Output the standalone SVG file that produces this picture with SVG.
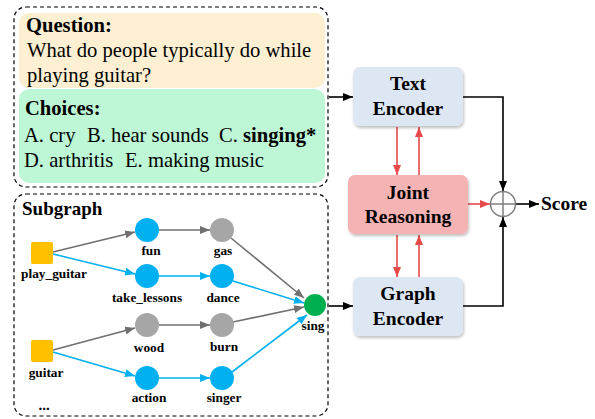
<svg xmlns="http://www.w3.org/2000/svg" width="595" height="419" viewBox="0 0 595 419" font-family="'Liberation Serif', 'DejaVu Serif', serif">
<style>
text{font-family:'Liberation Serif','DejaVu Serif',serif;fill:#000}
.t20{font-size:20.6px}
.b{font-weight:bold}
.lbl{font-weight:bold;font-size:13.3px;text-anchor:middle}
.box{font-weight:bold;font-size:19.5px;text-anchor:middle}
.dash{fill:none;stroke:#000;stroke-width:1.2;stroke-dasharray:4 3}
.ge{stroke:#707070;stroke-width:1.6;fill:none}
.be{stroke:#00B0F0;stroke-width:1.6;fill:none}
.re{stroke:#E84A4A;stroke-width:1.6;fill:none}
.ke{stroke:#000;stroke-width:1.6;fill:none}
.bn{fill:#00B0F0}
.gn{fill:#A6A6A6}
.sq{fill:#FFC000}
</style>
<defs>
<marker id="ag" markerUnits="userSpaceOnUse" markerWidth="10" markerHeight="8" refX="10" refY="4" orient="auto"><path d="M0,0 L10,4 L0,8 Z" fill="#707070"/></marker>
<marker id="ab" markerUnits="userSpaceOnUse" markerWidth="10" markerHeight="8" refX="10" refY="4" orient="auto"><path d="M0,0 L10,4 L0,8 Z" fill="#00B0F0"/></marker>
<marker id="ar" markerUnits="userSpaceOnUse" markerWidth="10" markerHeight="8" refX="10" refY="4" orient="auto"><path d="M0,0 L10,4 L0,8 Z" fill="#E84A4A"/></marker>
<marker id="ak" markerUnits="userSpaceOnUse" markerWidth="10" markerHeight="8" refX="10" refY="4" orient="auto"><path d="M0,0 L10,4 L0,8 Z" fill="#000"/></marker>
<filter id="sh" x="-10%" y="-10%" width="130%" height="140%"><feDropShadow dx="1" dy="2" stdDeviation="1.5" flood-color="#000" flood-opacity="0.25"/></filter>
</defs>

<g id="input-text">
<rect class="dash" x="14" y="7" width="314" height="180" rx="12"/>
<rect x="19" y="13" width="306" height="75" rx="10" fill="#FDF0D2"/>
<rect x="19" y="89" width="306" height="94" rx="10" fill="#BDF7D5"/>
<text class="t20 b" x="26" y="32">Question:</text>
<text class="t20" x="27" y="57">What do people typically do while</text>
<text class="t20" x="27" y="82">playing guitar?</text>
<text class="t20 b" x="25" y="115">Choices:</text>
<text class="t20" y="142"><tspan x="24">A. cry</tspan><tspan x="87">B. hear sounds</tspan><tspan x="219">C. </tspan><tspan class="b">singing*</tspan></text>
<text class="t20" y="167"><tspan x="24">D. arthritis</tspan><tspan x="125">E. making music</tspan></text>
</g>

<g id="subgraph">
<rect class="dash" x="14" y="194" width="314" height="222" rx="12"/>
<text class="b" style="font-size:19px" x="22" y="215">Subgraph</text>
<text class="lbl" style="font-size:15px" x="44" y="410">...</text>
</g>

<g id="connectors">
<path class="ge" d="M53,252 L135,232" marker-end="url(#ag)"/>
<path class="be" d="M53,254 L135,274" marker-end="url(#ab)"/>
<path class="ge" d="M159,230 L210,230" marker-end="url(#ag)"/>
<path class="be" d="M159,276 L210,276" marker-end="url(#ab)"/>
<path class="ge" d="M231,238 L304,298" marker-end="url(#ag)"/>
<path class="be" d="M233,281 L304,303" marker-end="url(#ab)"/>
<path class="ge" d="M233,322 L304,307" marker-end="url(#ag)"/>
<path class="be" d="M232,372 L307,315" marker-end="url(#ab)"/>
<path class="ge" d="M53,350 L135,328" marker-end="url(#ag)"/>
<path class="be" d="M53,352 L135,376" marker-end="url(#ab)"/>
<path class="ge" d="M159,325 L210,325" marker-end="url(#ag)"/>
<path class="be" d="M159,378 L210,378" marker-end="url(#ab)"/>

<path class="ke" d="M329,97 L353,97" marker-end="url(#ak)"/>
<path class="ke" d="M329,306 L353,306" marker-end="url(#ak)"/>
<path class="re" d="M397,127 L397,175" marker-end="url(#ar)"/>
<path class="re" d="M419,175 L419,127" marker-end="url(#ar)"/>
<path class="re" d="M397,235 L397,277" marker-end="url(#ar)"/>
<path class="re" d="M419,277 L419,235" marker-end="url(#ar)"/>
<path class="re" d="M468,204 L490,204" marker-end="url(#ar)"/>
<path class="ke" d="M463,97 H503 V191" marker-end="url(#ak)"/>
<path class="ke" d="M463,306 H503 V217" marker-end="url(#ak)"/>
<path class="ke" d="M516,204 L539,204" marker-end="url(#ak)"/>
</g>

<g id="n-play_guitar"><rect class="sq" x="31" y="242" width="22" height="22" rx="2"/><text class="lbl" x="54" y="278">play_guitar</text></g>
<g id="n-guitar"><rect class="sq" x="31" y="340" width="22" height="22" rx="2"/><text class="lbl" x="46" y="377">guitar</text></g>
<g id="n-fun"><circle class="bn" cx="147" cy="230" r="12"/><text class="lbl" x="151" y="255">fun</text></g>
<g id="n-take_lessons"><circle class="bn" cx="147" cy="276" r="12"/><text class="lbl" x="147" y="302">take_lessons</text></g>
<g id="n-wood"><circle class="gn" cx="147" cy="325" r="12"/><text class="lbl" x="149" y="352">wood</text></g>
<g id="n-action"><circle class="bn" cx="147" cy="378" r="12"/><text class="lbl" x="149" y="402">action</text></g>
<g id="n-gas"><circle class="gn" cx="222" cy="230" r="12"/><text class="lbl" x="223" y="255">gas</text></g>
<g id="n-dance"><circle class="bn" cx="222" cy="276" r="12"/><text class="lbl" x="223" y="302">dance</text></g>
<g id="n-burn"><circle class="gn" cx="222" cy="325" r="12"/><text class="lbl" x="224" y="351">burn</text></g>
<g id="n-singer"><circle class="bn" cx="222" cy="378" r="12"/><text class="lbl" x="224" y="402">singer</text></g>
<g id="n-sing"><circle cx="315" cy="305" r="11" fill="#00B050"/><text class="lbl" x="313" y="330">sing</text></g>

<g id="n-text-encoder"><rect x="353" y="67" width="110" height="59" rx="7" fill="#DDE7F3" filter="url(#sh)"/><text class="box" x="408" y="90">Text</text><text class="box" x="408" y="115">Encoder</text></g>
<g id="n-joint-reasoning"><rect x="348" y="175" width="120" height="59" rx="7" fill="#F5B3B3" filter="url(#sh)"/><text class="box" x="408" y="199">Joint</text><text class="box" x="408" y="223">Reasoning</text></g>
<g id="n-graph-encoder"><rect x="353" y="277" width="110" height="59" rx="7" fill="#DDE7F3" filter="url(#sh)"/><text class="box" x="408" y="300">Graph</text><text class="box" x="408" y="325">Encoder</text></g>
<g id="n-sum"><circle cx="503" cy="204" r="12.5" fill="#fff" stroke="#7F7F7F" stroke-width="1.5"/><path d="M490.5,204 H515.5 M503,191.5 V216.5" stroke="#7F7F7F" stroke-width="1.5"/></g>
<g id="n-score"><text class="box" style="text-anchor:start" x="541" y="210">Score</text></g>
</svg>
